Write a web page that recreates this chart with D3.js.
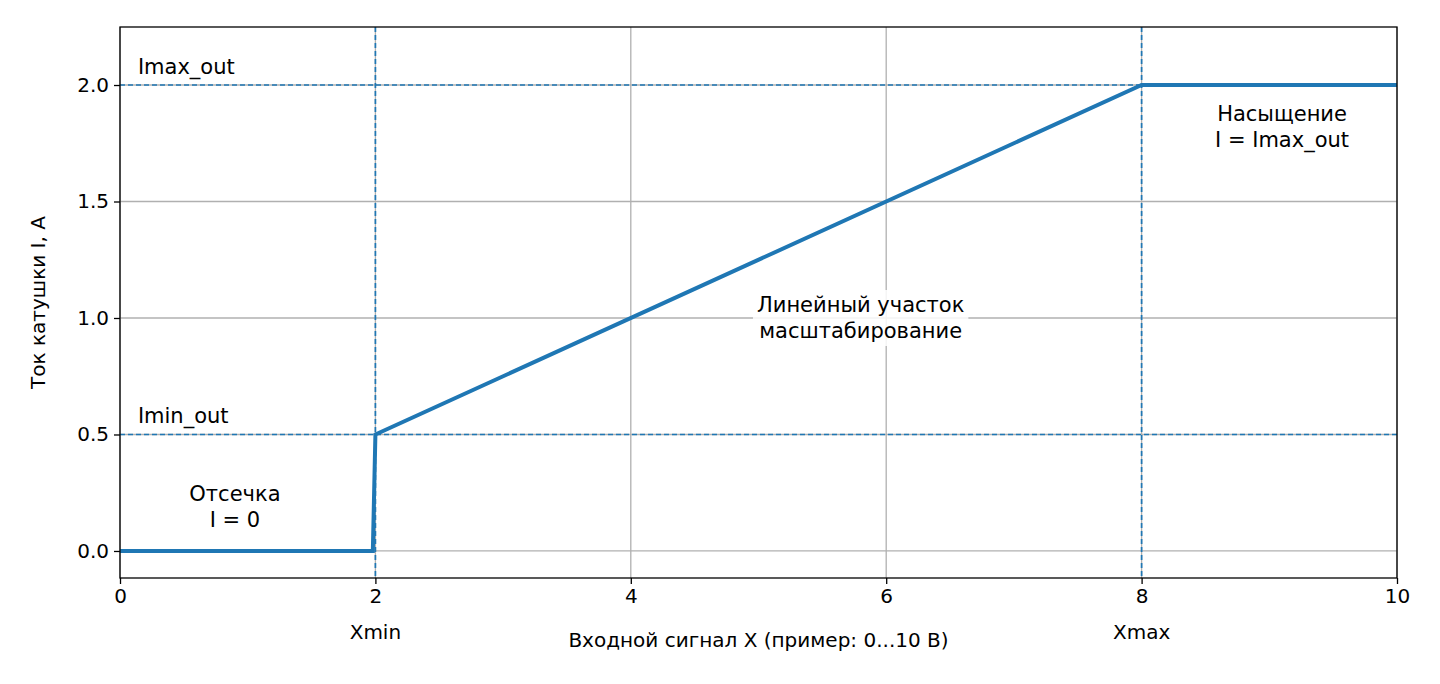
<!DOCTYPE html>
<html><head><meta charset="utf-8">
<script src="https://cdn.jsdelivr.net/npm/d3@7"></script>
<style>body{margin:0;background:#fff}text{font-family:"DejaVu Sans",sans-serif;fill:#000}</style>
</head><body><svg id="c" width="1440" height="684"></svg>
<script>
const xTicks=[0,2,4,6,8,10];
const yTicks=[0.0,0.5,1.0,1.5,2.0];
const curveX=[0,1.98,2,8,10];
const curveY=[0,0,0.5,2,2];
const vRefs=[2,8];
const hRefs=[0.5,2.0];
const xSub=[{x:2,t:"Xmin"},{x:8,t:"Xmax"}];
const hLabels=[{y:2.0,t:"Imax_out"},{y:0.5,t:"Imin_out"}];
const notes=[{x:0.9,y:0.19,l:["Отсечка","I = 0"],bg:false},{x:5.8,y:1.0,l:["Линейный участок","масштабирование"],bg:true},{x:9.1,y:1.82,l:["Насыщение","I = Imax_out"],bg:false}];

const svg=d3.select("#c");
const L=120,R=1397,T=27,B=578;
const x=d3.scaleLinear().domain([0,10]).range([L,R]);
const y=d3.scaleLinear().domain([-0.116,2.249]).range([B,T]);
const g=svg.append("g");
xTicks.forEach(v=>g.append("line").attr("x1",x(v)).attr("x2",x(v)).attr("y1",T).attr("y2",B).attr("stroke","#b0b0b0").attr("stroke-width",1.3));
yTicks.forEach(v=>g.append("line").attr("y1",y(v)).attr("y2",y(v)).attr("x1",L).attr("x2",R).attr("stroke","#b0b0b0").attr("stroke-width",1.3));
vRefs.forEach(v=>g.append("line").attr("x1",x(v)).attr("x2",x(v)).attr("y1",T).attr("y2",B).attr("stroke","#1f77b4").attr("stroke-width",1.7).attr("stroke-dasharray","5,3"));
hRefs.forEach(v=>g.append("line").attr("y1",y(v)).attr("y2",y(v)).attr("x1",L).attr("x2",R).attr("stroke","#1f77b4").attr("stroke-width",1.7).attr("stroke-dasharray","5,3"));
g.append("path").attr("d",d3.line().x((d,i)=>x(d)).y((d,i)=>y(curveY[i]))(curveX)).attr("fill","none").attr("stroke","#1f77b4").attr("stroke-width",4);
hLabels.forEach(h=>g.append("text").attr("x",x(0.14)).attr("y",y(h.y)-11).attr("font-size",21).text(h.t));
notes.forEach(n=>{
  const gg=g.append("g");
  const ty=y(n.y);
  n.l.forEach((s,i)=>gg.append("text").attr("x",x(n.x)).attr("y",ty+(i-0.5)*26+7).attr("text-anchor","middle").attr("font-size",21).text(s));
  if(n.bg){const bb=gg.node().getBBox();gg.insert("rect","text").attr("x",bb.x-4).attr("y",bb.y-3).attr("width",bb.width+8).attr("height",bb.height+6).attr("fill","#fff").attr("opacity",0.85);}
});
g.append("rect").attr("x",L).attr("y",T).attr("width",R-L).attr("height",B-T).attr("fill","none").attr("stroke","#000").attr("stroke-width",1.3);
const xa=svg.append("g").attr("transform",`translate(0,${B})`).call(d3.axisBottom(x).tickValues(xTicks).tickFormat(d3.format("d")).tickSize(6).tickPadding(5));
const ya=svg.append("g").attr("transform",`translate(${L},0)`).call(d3.axisLeft(y).tickValues(yTicks).tickFormat(d3.format(".1f")).tickSize(6).tickPadding(5));
[xa,ya].forEach(a=>{a.select(".domain").remove();a.selectAll("text").attr("font-size",20).attr("font-family","DejaVu Sans");a.selectAll("line").attr("stroke","#000").attr("stroke-width",1.3);});
xSub.forEach(s=>svg.append("text").attr("x",x(s.x)).attr("y",639).attr("text-anchor","middle").attr("font-size",20).text(s.t));
svg.append("text").attr("x",(L+R)/2).attr("y",647).attr("text-anchor","middle").attr("font-size",20).text("Входной сигнал X (пример: 0...10 В)");
svg.append("text").attr("transform",`translate(45,${(T+B)/2}) rotate(-90)`).attr("text-anchor","middle").attr("font-size",20).text("Ток катушки I, A");
</script></body></html>
